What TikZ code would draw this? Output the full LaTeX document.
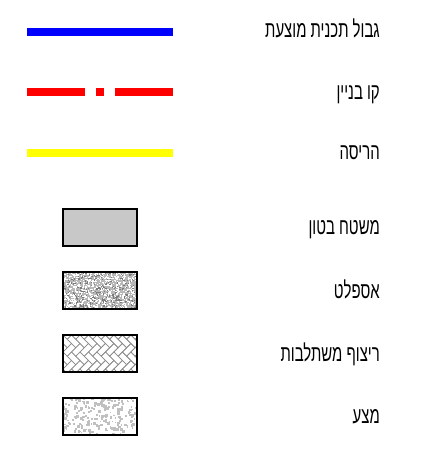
\documentclass[tikz,border=0pt]{standalone}
\usepackage{fontspec}
\newfontfamily\hebfont[Script=Hebrew,FakeStretch=0.65]{Liberation Sans}
\TeXXeTstate=1
\definecolor{planblue}{HTML}{0000FF}
\definecolor{buildred}{HTML}{FF0000}
\definecolor{demoyellow}{HTML}{FFFF00}
\definecolor{concrete}{HTML}{C8C8C8}
\definecolor{patgray}{HTML}{8C8C8C}
\definecolor{asphbase}{HTML}{B8B8B8}
\definecolor{asphdark}{HTML}{7C7C7C}
\definecolor{mtzagray}{HTML}{C0C0C0}
\tikzset{
  legtext/.style={anchor=base east,inner sep=0pt,font=\hebfont\fontsize{23}{23}\selectfont},
  legline/.style={line width=8pt},
  legbox/.style={draw=black,line width=2pt},
}
\begin{document}
\begin{tikzpicture}[x=1pt,y=-1pt]
\useasboundingbox (0,0) rectangle (429,451);
% line legends
\coordinate (bA) at (27,31.5); \coordinate (bB) at (173,31.5);
\draw[legline,planblue] (bA) -- (bB);
\coordinate (rA) at (27,92); \coordinate (rB) at (173,92);
\draw[legline,buildred,dash pattern=on 58pt off 11pt on 8pt off 11pt on 58pt off 10pt] (rA) -- (rB);
\coordinate (yA) at (27,152.5); \coordinate (yB) at (173,152.5);
\draw[legline,demoyellow] (yA) -- (yB);
% concrete
\fill[concrete] (63,209) rectangle (137,246);
\draw[legbox] (63,209) rectangle (137,246);
% asphalt
\begin{scope}
\clip (63,272) rectangle (137,309);
\fill[asphbase] (63,272) rectangle (137,309);
\pgfmathsetseed{7}
\foreach \i in {1,...,750}{
  \pgfmathsetmacro\rx{63+74*rnd}\pgfmathsetmacro\ry{272+37*rnd}
  \fill[white] (\rx,\ry) rectangle ++(1.3,1.3);
}
\foreach \i in {1,...,300}{
  \pgfmathsetmacro\rx{63+74*rnd}\pgfmathsetmacro\ry{272+37*rnd}
  \fill[asphdark] (\rx,\ry) rectangle ++(1.2,1.2);
}
\end{scope}
\draw[legbox] (63,272) rectangle (137,309);
% herringbone pavers
\begin{scope}
\clip (63,335) rectangle (137,372);
\begin{scope}[shift={(63,335)},scale=6,rotate=45]
\foreach \k in {-16,...,16}{
  \foreach \m in {-5,...,5}{
    \pgfmathtruncatemacro\ha{\k+2*\m}
    \pgfmathtruncatemacro\hb{\k-2*\m}
    \pgfmathtruncatemacro\vb{\k+1-2*\m}
    \draw[patgray,line width=0.6pt] (\ha,\hb) rectangle ++(2,1);
    \draw[patgray,line width=0.6pt] (\ha,\vb) rectangle ++(1,2);
  }
}
\end{scope}
\end{scope}
\draw[legbox] (63,335) rectangle (137,372);
% base course
\begin{scope}
\clip (63,398) rectangle (137,435);
\pgfmathsetseed{11}
\foreach \i in {1,...,230}{
  \pgfmathsetmacro\rx{63+74*rnd}\pgfmathsetmacro\ry{398+37*rnd}
  \pgfmathsetmacro\rs{1.2+1.8*rnd}
  \fill[mtzagray] (\rx,\ry) rectangle ++(\rs,\rs);
}
\end{scope}
\draw[legbox] (63,398) rectangle (137,435);
% labels
\node[legtext] (t1) at (380,37) {\beginR גבול תכנית מוצעת\endR};
\node[legtext] (t2) at (380,99) {\beginR קו בניין\endR};
\node[legtext] (t3) at (380,159) {\beginR הריסה\endR};
\node[legtext] (t4) at (380,234) {\beginR משטח בטון\endR};
\node[legtext] (t5) at (380,298) {\beginR אספלט\endR};
\node[legtext] (t6) at (380,361) {\beginR ריצוף משתלבות\endR};
\node[legtext] (t7) at (380,423) {\beginR מצע\endR};
\end{tikzpicture}
\end{document}
